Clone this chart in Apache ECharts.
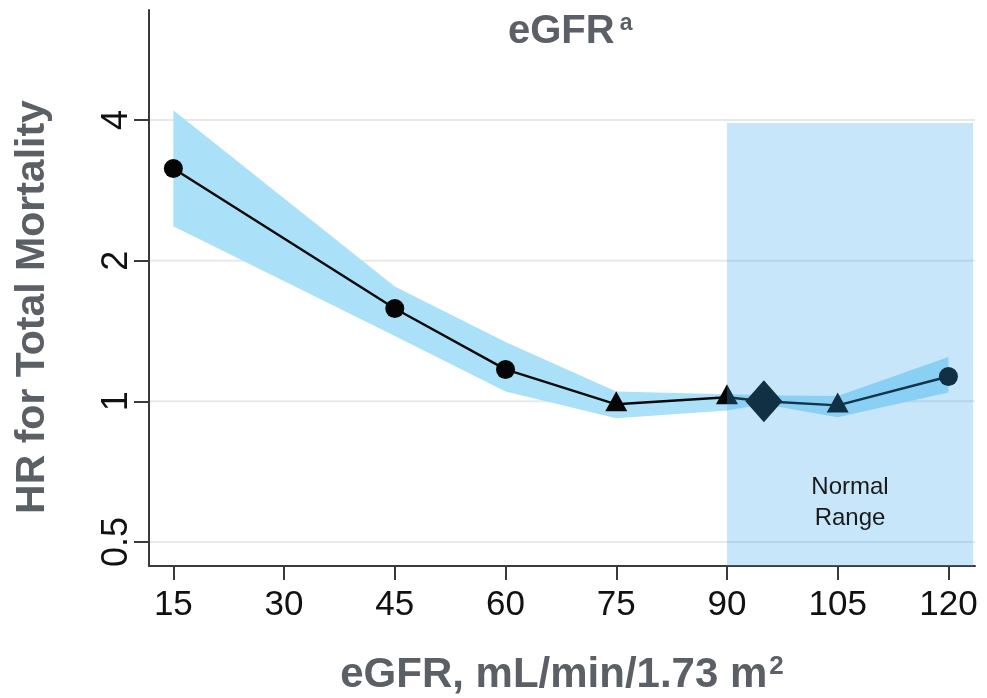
<!DOCTYPE html>
<html>
<head>
<meta charset="utf-8">
<script src="https://cdn.jsdelivr.net/npm/echarts@6/dist/echarts.min.js"></script>
<style>
  html, body { margin: 0; padding: 0; background: #ffffff; }
  #chart { width: 987px; height: 698px; }
</style>
</head>
<body>
<div id="chart"></div>
<script>
// ---- data ----
const xTicks = [15, 30, 45, 60, 75, 90, 105, 120];
const yTicks = [0.5, 1, 2, 4];
const egfr   = [15, 45, 60, 75, 90, 95, 105, 120];
const hr     = [3.15, 1.58, 1.17, 0.985, 1.02, 1.0, 0.98, 1.13];
const ciLow  = [2.37, 1.38, 1.05, 0.92, 0.955, 0.985, 0.924, 1.044];
const ciHigh = [4.20, 1.76, 1.34, 1.05, 1.035, 1.03, 1.026, 1.244];
const circleX   = [15, 45, 60, 120];
const triangleX = [75, 90, 105];
const referenceX = [95];
const normalRangeStart = 90;
const normalRangeTop = 3.94;
const X_MIN = 11.7, X_MAX = 123.6;
const Y_MIN = 0.444, Y_MAX = 6.88;

const hrAt = x => hr[egfr.indexOf(x)];
const pts = xs => xs.map(x => [x, hrAt(x)]);

const GRAY = '#5b6066';
const AXIS = '#3a3a3a';
const NARROW = "'Liberation Sans Narrow', 'Arial Narrow', 'Liberation Sans', Arial, sans-serif";
const SANS = "'Liberation Sans', Arial, sans-serif";

const chart = echarts.init(document.getElementById('chart'));

chart.setOption({
  animation: false,
  backgroundColor: '#ffffff',
  title: {
    text: '{m|eGFR}{s|a}',
    left: 503,
    top: 7,
    textStyle: {
      rich: {
        m: { fontSize: 40, fontWeight: 'bold', color: GRAY, fontFamily: SANS },
        s: { fontSize: 23, fontWeight: 'bold', color: GRAY, fontFamily: SANS, verticalAlign: 'top', padding: [0, 0, 0, 5] }
      }
    }
  },
  grid: { left: 149, right: 12, top: 10, bottom: 132, containLabel: false, outerBoundsMode: 'none' },
  xAxis: {
    type: 'value',
    min: X_MIN,
    max: X_MAX,
    splitLine: { show: false },
    axisLine: { lineStyle: { color: AXIS, width: 2 } },
    axisTick: { customValues: xTicks, length: 14, lineStyle: { color: AXIS, width: 2 } },
    axisLabel: { customValues: xTicks, fontSize: 35, color: '#111111', fontFamily: NARROW, margin: 22 },
    name: '{b|eGFR, mL/min/1.73 m}{s|2}',
    nameLocation: 'middle',
    nameGap: 88,
    nameTextStyle: {
      rich: {
        b: { fontSize: 42, fontWeight: 'bold', color: GRAY, fontFamily: SANS },
        s: { fontSize: 26, fontWeight: 'bold', color: GRAY, fontFamily: SANS, verticalAlign: 'top', padding: [0, 0, 0, 2] }
      }
    }
  },
  yAxis: {
    type: 'log',
    logBase: 2,
    min: Y_MIN,
    max: Y_MAX,
    splitLine: { show: false },
    axisLine: { lineStyle: { color: AXIS, width: 2 } },
    axisTick: { customValues: yTicks, length: 15, lineStyle: { color: AXIS, width: 2 } },
    axisLabel: {
      customValues: yTicks,
      rotate: 90,
      fontSize: 36,
      color: '#111111',
      fontFamily: SANS,
      margin: 14,
      formatter: v => String(+(+v).toFixed(2))
    },
    name: 'HR for Total Mortality',
    nameLocation: 'middle',
    nameRotate: 90,
    nameGap: 96,
    nameTextStyle: { fontSize: 41, fontWeight: 'bold', color: GRAY, fontFamily: SANS, padding: [0, 38, 0, 0] }
  },
  series: [
    {
      // horizontal reference grid lines
      type: 'custom',
      silent: true,
      z: 0,
      data: yTicks.map(v => [X_MIN, v]),
      renderItem: (params, api) => {
        const cs = params.coordSys;
        const y = api.coord([api.value(0), api.value(1)])[1];
        return {
          type: 'line',
          shape: { x1: cs.x, y1: y, x2: cs.x + cs.width, y2: y },
          style: { stroke: '#e8e8e8', lineWidth: 2 }
        };
      }
    },
    {
      // 95% CI band
      type: 'custom',
      silent: true,
      z: 1,
      data: egfr.map((x, i) => [x, ciLow[i], ciHigh[i]]),
      encode: { x: 0, y: [1, 2] },
      renderItem: (params, api) => {
        if (params.dataIndex !== 0) return null;
        const poly = [];
        for (let i = 0; i < egfr.length; i++) poly.push(api.coord([egfr[i], ciHigh[i]]));
        for (let i = egfr.length - 1; i >= 0; i--) poly.push(api.coord([egfr[i], ciLow[i]]));
        return { type: 'polygon', shape: { points: poly }, style: { fill: '#aae1f9' } };
      }
    },
    {
      type: 'line',
      z: 2,
      silent: true,
      data: egfr.map((x, i) => [x, hr[i]]),
      symbol: 'none',
      lineStyle: { color: '#0a0a0a', width: 2.5 }
    },
    {
      type: 'scatter',
      z: 3,
      silent: true,
      data: pts(circleX),
      symbol: 'circle',
      symbolSize: 19,
      itemStyle: { color: '#050505', opacity: 1 }
    },
    {
      type: 'scatter',
      z: 3,
      silent: true,
      data: pts(triangleX),
      symbol: 'triangle',
      symbolSize: [22, 20],
      symbolOffset: [0, -3],
      itemStyle: { color: '#050505', opacity: 1 }
    },
    {
      type: 'scatter',
      z: 3,
      silent: true,
      data: pts(referenceX),
      symbol: 'diamond',
      symbolSize: [37, 42],
      itemStyle: { color: '#050505', opacity: 1 }
    },
    {
      // normal range shading
      type: 'custom',
      silent: true,
      z: 10,
      data: [[normalRangeStart, normalRangeTop]],
      renderItem: (params, api) => {
        const cs = params.coordSys;
        const p = api.coord([api.value(0), api.value(1)]);
        const right = cs.x + cs.width - 2;
        const bottom = cs.y + cs.height;
        return {
          type: 'group',
          children: [
            {
              type: 'rect',
              shape: { x: p[0], y: p[1], width: right - p[0], height: bottom - p[1] },
              style: { fill: 'rgba(55,164,236,0.275)' }
            },
            {
              type: 'text',
              style: {
                text: 'Normal\nRange',
                x: (p[0] + right) / 2,
                y: bottom - 63,
                align: 'center',
                verticalAlign: 'middle',
                fontSize: 24,
                lineHeight: 31,
                fontFamily: NARROW,
                fill: '#1a1a1a'
              }
            }
          ]
        };
      }
    }
  ]
});
</script>
</body>
</html>
